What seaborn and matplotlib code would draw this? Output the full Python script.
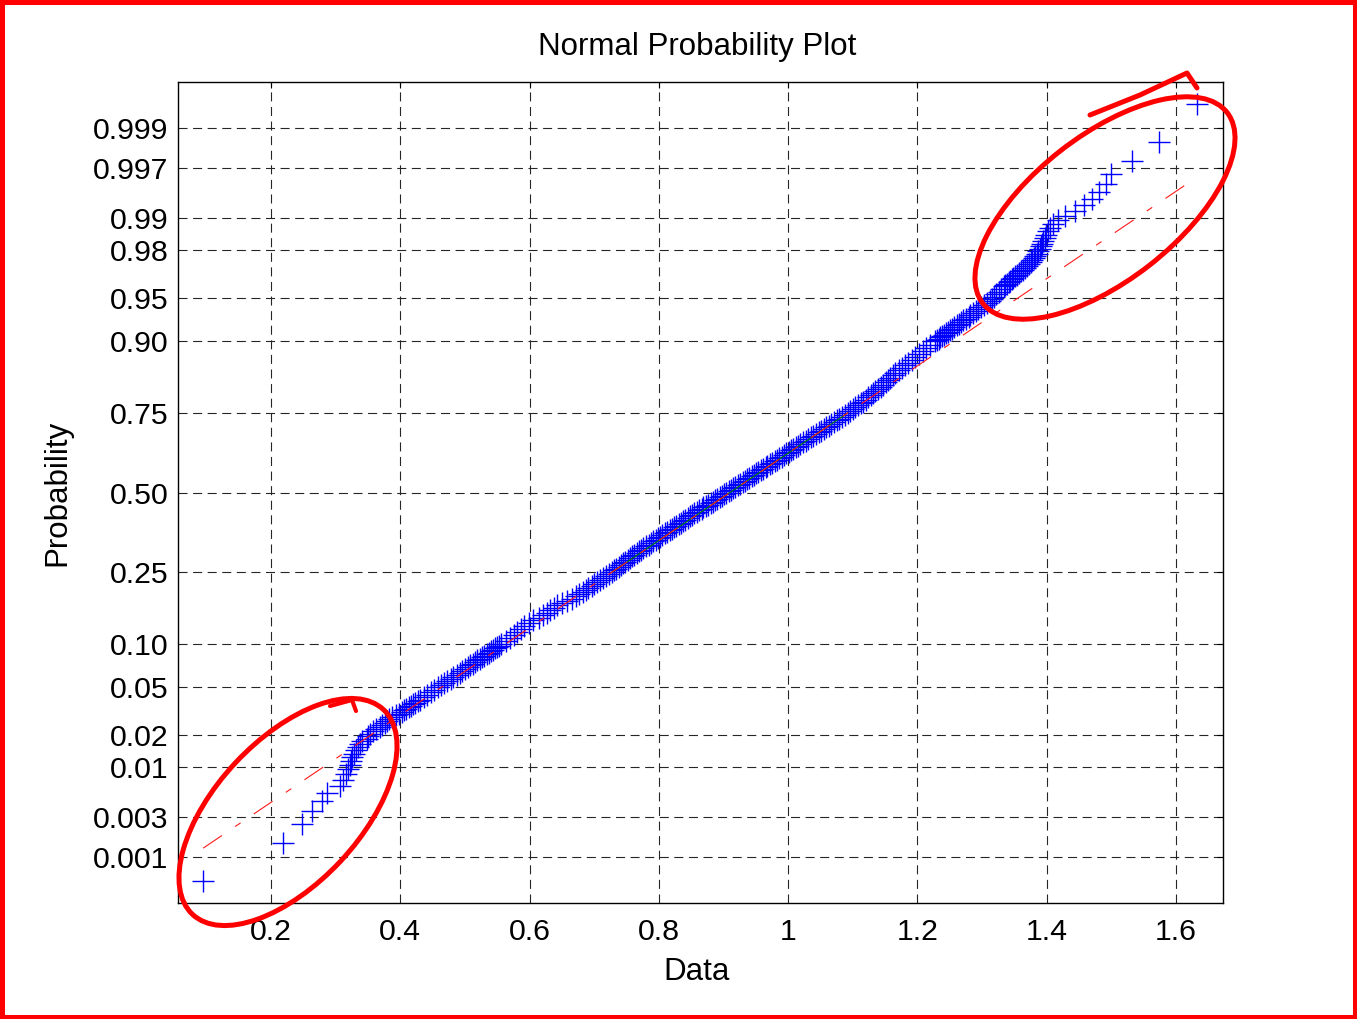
import numpy as np
import pandas as pd
import matplotlib
matplotlib.use("Agg")
import matplotlib.pyplot as plt
import seaborn as sns
from statistics import NormalDist
from matplotlib.patches import Ellipse, Rectangle

# ---------------------------------------------------------------
# Sorted sample (n = 1000): rank of each listed observation and its value
# ---------------------------------------------------------------
N_SAMPLE = 1000

lower_tail_rank = list(range(1, 41))
lower_tail_value = [0.095, 0.219, 0.248, 0.263, 0.279, 0.287, 0.307, 0.311, 0.316, 0.319,
                    0.322, 0.324, 0.326, 0.328, 0.331, 0.335, 0.338, 0.341, 0.348, 0.350,
                    0.353, 0.358, 0.362, 0.369, 0.372, 0.376, 0.379, 0.383, 0.387, 0.393,
                    0.398, 0.403, 0.406, 0.409, 0.413, 0.417, 0.420, 0.423, 0.427, 0.430]

lower_body_rank = list(range(42, 101, 2))
lower_body_value = [0.436, 0.441, 0.447, 0.452, 0.458, 0.463, 0.468, 0.473, 0.478, 0.482,
                    0.487, 0.492, 0.496, 0.500, 0.504, 0.508, 0.512, 0.516, 0.519, 0.523,
                    0.527, 0.530, 0.534, 0.537, 0.540, 0.543, 0.546, 0.550, 0.553, 0.556]

body_rank = list(range(105, 896, 5))
body_value = [0.563, 0.570, 0.576, 0.581, 0.586, 0.591, 0.599, 0.606, 0.614, 0.621,
              0.627, 0.632, 0.637, 0.642, 0.650, 0.658, 0.665, 0.672, 0.677, 0.682,
              0.687, 0.691, 0.696, 0.700, 0.705, 0.709, 0.714, 0.718, 0.723, 0.727,
              0.731, 0.734, 0.738, 0.741, 0.745, 0.748, 0.752, 0.755, 0.759, 0.762,
              0.766, 0.769, 0.773, 0.776, 0.780, 0.784, 0.788, 0.791, 0.795, 0.798,
              0.802, 0.805, 0.809, 0.813, 0.817, 0.820, 0.824, 0.827, 0.831, 0.834,
              0.838, 0.841, 0.845, 0.848, 0.852, 0.855, 0.859, 0.862, 0.866, 0.869,
              0.873, 0.876, 0.880, 0.883, 0.887, 0.890, 0.894, 0.897, 0.901, 0.904,
              0.908, 0.911, 0.915, 0.918, 0.922, 0.926, 0.930, 0.933, 0.937, 0.940,
              0.944, 0.947, 0.951, 0.954, 0.958, 0.961, 0.965, 0.968, 0.972, 0.975,
              0.979, 0.982, 0.986, 0.990, 0.994, 0.997, 1.001, 1.004, 1.008, 1.012,
              1.016, 1.019, 1.023, 1.027, 1.031, 1.035, 1.039, 1.043, 1.047, 1.051,
              1.055, 1.059, 1.063, 1.067, 1.071, 1.075, 1.079, 1.083, 1.088, 1.092,
              1.096, 1.100, 1.104, 1.108, 1.112, 1.116, 1.120, 1.124, 1.128, 1.131,
              1.135, 1.139, 1.143, 1.147, 1.151, 1.154, 1.158, 1.162, 1.166, 1.171,
              1.176, 1.181, 1.186, 1.191, 1.196, 1.202, 1.208, 1.214, 1.220]

upper_body_rank = list(range(900, 961, 2))
upper_body_value = [1.227, 1.230, 1.233, 1.235, 1.238, 1.241, 1.244, 1.247, 1.251, 1.254,
                    1.257, 1.261, 1.264, 1.268, 1.271, 1.275, 1.279, 1.282, 1.286, 1.290,
                    1.294, 1.298, 1.303, 1.307, 1.312, 1.316, 1.319, 1.322, 1.326, 1.330,
                    1.334]

upper_tail_rank = list(range(961, 1001))
upper_tail_value = [1.336, 1.339, 1.341, 1.343, 1.346, 1.348, 1.351, 1.354, 1.357, 1.360,
                    1.363, 1.366, 1.369, 1.372, 1.375, 1.377, 1.380, 1.382, 1.385, 1.387,
                    1.389, 1.391, 1.393, 1.395, 1.397, 1.399, 1.402, 1.405, 1.410, 1.418,
                    1.428, 1.444, 1.458, 1.470, 1.481, 1.491, 1.500, 1.532, 1.574, 1.633]

prob_ticks = [0.001, 0.003, 0.01, 0.02, 0.05, 0.10, 0.25, 0.50,
              0.75, 0.90, 0.95, 0.98, 0.99, 0.997, 0.999]
prob_tick_labels = ["0.001", "0.003", "0.01", "0.02", "0.05", "0.10", "0.25", "0.50",
                    "0.75", "0.90", "0.95", "0.98", "0.99", "0.997", "0.999"]
x_ticks = [0.2, 0.4, 0.6, 0.8, 1.0, 1.2, 1.4, 1.6]
x_tick_labels = ["0.2", "0.4", "0.6", "0.8", "1", "1.2", "1.4", "1.6"]

# ---------------------------------------------------------------
nd = NormalDist()
ranks = np.array(lower_tail_rank + lower_body_rank + body_rank + upper_body_rank
                 + upper_tail_rank, dtype=float)
values = np.array(lower_tail_value + lower_body_value + body_value + upper_body_value
                  + upper_tail_value)
prob = (ranks - 0.5) / N_SAMPLE
zq = np.array([nd.inv_cdf(p) for p in prob])
df = pd.DataFrame({"Data": values, "z": zq})

# reference line through the quartiles
q25 = np.interp(0.25 * N_SAMPLE + 0.5, ranks, values)
q75 = np.interp(0.75 * N_SAMPLE + 0.5, ranks, values)
z25, z75 = nd.inv_cdf(0.25), nd.inv_cdf(0.75)
slope = (z75 - z25) / (q75 - q25)
def ref_z(x):
    return z25 + (np.asarray(x) - q25) * slope

W, H, DPI = 1357, 1019, 100
sns.set_theme(style="white")
plt.rcParams["font.family"] = ["Liberation Sans", "DejaVu Sans"]
plt.rcParams["lines.scale_dashes"] = False

fig = plt.figure(figsize=(W / DPI, H / DPI), dpi=DPI)
fig.patch.set_facecolor("white")
ax = fig.add_axes([178 / W, 1 - 903 / H, (1223 - 178) / W, (903 - 82) / H])
ax.set_facecolor("white")

sns.scatterplot(data=df, x="Data", y="z", marker="+", color="#0000ff",
                s=235, linewidth=1.0, ax=ax, zorder=3, legend=False)

# fitted segment between quartiles and the dash-dot extension
ax.plot([q25, q75], ref_z([q25, q75]), color="#008000", lw=0.8, zorder=4)
xmin, xmax = values.min(), values.max()
ext, = ax.plot([xmin, xmax], ref_z([xmin, xmax]), color="#ff1a1a", lw=0.8, zorder=5)
ext.set_dashes([16.3, 11.5, 4.7, 11.5])

ax.set_xlim(0.0561, 1.6727)
ax.set_ylim(-3.476, 3.476)
ax.set_xticks(x_ticks)
ax.set_xticklabels(x_tick_labels)
ax.set_yticks([nd.inv_cdf(p) for p in prob_ticks])
ax.set_yticklabels(prob_tick_labels)

ax.grid(True, color="#262626", lw=0.8, linestyle=(0, (6.5, 4)))
ax.set_axisbelow(True)
ax.tick_params(direction="in", length=4, width=0.8, top=True, right=True,
               labelsize=21.8, colors="black")
ax.tick_params(axis="x", pad=11)
ax.tick_params(axis="y", pad=7)
for sp in ax.spines.values():
    sp.set_color("black")
    sp.set_linewidth(1.0)

title = ax.set_title("Normal Probability Plot", fontsize=22.5, pad=19.5, color="black")
title.set_x(0.4965)
ax.set_xlabel("Data", fontsize=22.5, labelpad=8, color="black")
ax.xaxis.label.set_x(0.4965)
ax.set_ylabel("Probability", fontsize=22.5, color="black")
ax.yaxis.set_label_coords(-0.1015, 0.5)

# hand-drawn highlights and frame
ov = fig.add_axes([0, 0, 1, 1], zorder=10)
ov.set_xlim(0, W)
ov.set_ylim(H, 0)
ov.axis("off")
ov.patch.set_alpha(0)
red = "#ff0000"
ov.add_patch(Ellipse((1105, 208), 310, 145, angle=-38, fill=False, ec=red, lw=3.6))
ov.plot([1090, 1140, 1187, 1197], [115, 95, 73, 88], color=red, lw=3.6,
        solid_capstyle="round", solid_joinstyle="round")
ov.add_patch(Ellipse((288, 812), 280, 144, angle=-47, fill=False, ec=red, lw=3.6))
ov.plot([330, 352, 356], [706, 700, 711], color=red, lw=3.0,
        solid_capstyle="round", solid_joinstyle="round")
ov.add_patch(Rectangle((0, 0), W, H, fill=False, ec=red, lw=6.5))

fig.savefig("out.png", dpi=DPI)
